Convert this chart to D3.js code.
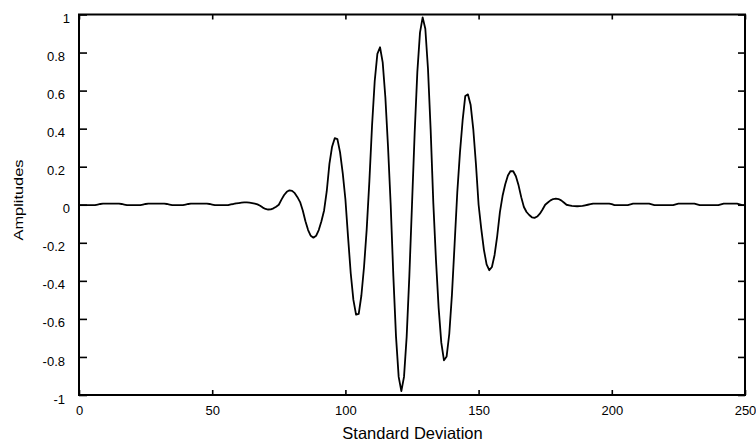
<!DOCTYPE html>
<html>
<head>
<meta charset="utf-8">
<script src="https://cdn.jsdelivr.net/npm/d3@7/dist/d3.min.js"></script>
<style>
  html, body { margin: 0; padding: 0; background: #fff; }
  svg { display: block; font-family: "Liberation Sans", Arial, Helvetica, sans-serif; }
</style>
</head>
<body>
<svg id="chart" width="756" height="445"></svg>
<script>
// Sample positions (standard deviations) and wavelet amplitudes
const steps = d3.range(0, 251);
const amplitudes = [
  -0.002,-0.002,-0.002,-0.002,-0.002,-0.002,-0.002,0.001,0.004,0.006,
  0.006,0.006,0.006,0.006,0.006,0.006,0.004,0.001,-0.002,-0.002,
  -0.002,-0.002,-0.002,-0.002,0.001,0.004,0.006,0.006,0.006,0.006,
  0.006,0.006,0.006,0.004,0.001,-0.002,-0.002,-0.002,-0.002,-0.002,
  0.001,0.004,0.006,0.006,0.006,0.006,0.006,0.006,0.006,0.004,
  0.001,-0.002,-0.002,-0.002,-0.002,-0.002,-0.002,0.002,0.004,0.007,
  0.009,0.011,0.012,0.012,0.011,0.009,0.006,0.002,-0.005,-0.015,
  -0.022,-0.025,-0.024,-0.019,-0.010,0.000,0.027,0.051,0.068,0.076,
  0.073,0.061,0.040,0.014,-0.030,-0.087,-0.133,-0.163,-0.173,-0.163,
  -0.133,-0.087,-0.030,0.071,0.215,0.305,0.350,0.345,0.275,0.166,
  0.029,-0.170,-0.360,-0.500,-0.578,-0.574,-0.477,-0.326,-0.128,0.124,
  0.415,0.649,0.793,0.828,0.748,0.565,0.305,0.000,-0.375,-0.693,
  -0.905,-0.980,-0.905,-0.693,-0.375,0.000,0.377,0.697,0.905,0.985,
  0.925,0.715,0.395,0.010,-0.290,-0.542,-0.725,-0.818,-0.797,-0.678,
  -0.471,-0.205,0.066,0.274,0.443,0.572,0.580,0.526,0.398,0.214,
  0.000,-0.127,-0.237,-0.313,-0.344,-0.327,-0.264,-0.163,-0.039,0.047,
  0.108,0.154,0.177,0.176,0.150,0.102,0.040,-0.012,-0.038,-0.054,
  -0.066,-0.069,-0.062,-0.047,-0.025,0.000,0.012,0.023,0.030,0.032,
  0.030,0.023,0.012,0.000,-0.003,-0.006,-0.007,-0.008,-0.007,-0.006,
  -0.003,0.000,0.003,0.006,0.006,0.006,0.006,0.006,0.006,0.006,
  0.003,-0.002,-0.002,-0.002,-0.002,-0.002,-0.002,0.002,0.006,0.006,
  0.006,0.006,0.006,0.006,0.006,0.002,-0.002,-0.002,-0.002,-0.002,
  -0.002,-0.002,-0.002,-0.002,0.002,0.006,0.006,0.006,0.006,0.006,
  0.006,0.006,0.002,-0.002,-0.002,-0.002,-0.002,-0.002,-0.002,-0.002,
  -0.002,0.002,0.006,0.006,0.006,0.006,0.006,0.006,0.002,-0.002,
  -0.002
];
const xTicks = [0, 50, 100, 150, 200, 250];
const yTicks = [-1, -0.8, -0.6, -0.4, -0.2, 0, 0.2, 0.4, 0.6, 0.8, 1];
const xTitle = "Standard Deviation";
const yTitle = "Amplitudes";

const svg = d3.select("#chart");
const margin = { left: 79, right: 11, top: 14.5, bottom: 50 };
const W = 756, H = 445;

const x = d3.scaleLinear().domain([0, 250]).range([margin.left, W - margin.right]);
const y = d3.scaleLinear().domain([-1, 1]).range([H - margin.bottom, margin.top]);

const fmt = v => String(+v.toFixed(1));

// Curve
const line = d3.line()
  .x((d, i) => x(steps[i]))
  .y(d => y(d));

svg.append("path")
  .datum(amplitudes)
  .attr("fill", "none")
  .attr("stroke", "#000")
  .attr("stroke-width", 1.8)
  .attr("stroke-linejoin", "round")
  .attr("d", line);

// Axes with inward ticks on all four sides
const styleAxis = g => {
  g.select(".domain").remove();
  g.selectAll(".tick line").attr("stroke", "#000").attr("stroke-width", 1.6);
  g.selectAll("text").attr("fill", "#000").attr("font-size", 13)
    .attr("font-family", "'Liberation Sans', Arial, sans-serif");
};

svg.append("g")
  .attr("transform", `translate(0,${y(-1)})`)
  .call(d3.axisBottom(x).tickValues(xTicks).tickSize(-5).tickPadding(11).tickFormat(d3.format("d")))
  .call(styleAxis);

svg.append("g")
  .attr("transform", `translate(0,${y(1)})`)
  .call(d3.axisTop(x).tickValues(xTicks).tickSize(-5).tickFormat(""))
  .call(styleAxis);

const leftAxis = svg.append("g")
  .attr("transform", `translate(${x(0)},0)`)
  .call(d3.axisLeft(y).tickValues(yTicks).tickSize(-8).tickPadding(14).tickFormat(fmt))
  .call(styleAxis);
leftAxis.selectAll("text")
  .attr("dy", "0.62em")
  .attr("x", d => (d === 1 || d === 0) ? -9 : -14);

svg.append("g")
  .attr("transform", `translate(${x(250)},0)`)
  .call(d3.axisRight(y).tickValues(yTicks).tickSize(-7).tickFormat(""))
  .call(styleAxis);

// Frame
svg.append("rect")
  .attr("x", x(0)).attr("y", y(1))
  .attr("width", x(250) - x(0)).attr("height", y(-1) - y(1))
  .attr("fill", "none").attr("stroke", "#000").attr("stroke-width", 2);

// Titles
svg.append("text")
  .attr("x", (x(0) + x(250)) / 2 + 0.5)
  .attr("y", 439)
  .attr("text-anchor", "middle")
  .attr("font-size", 16.5)
  .attr("fill", "#000")
  .text(xTitle);

svg.append("text")
  .attr("transform", `translate(23,200) rotate(-90)`)
  .attr("text-anchor", "middle")
  .attr("font-size", 13)
  .attr("textLength", 81)
  .attr("lengthAdjust", "spacingAndGlyphs")
  .attr("fill", "#000")
  .text(yTitle);
</script>
</body>
</html>
